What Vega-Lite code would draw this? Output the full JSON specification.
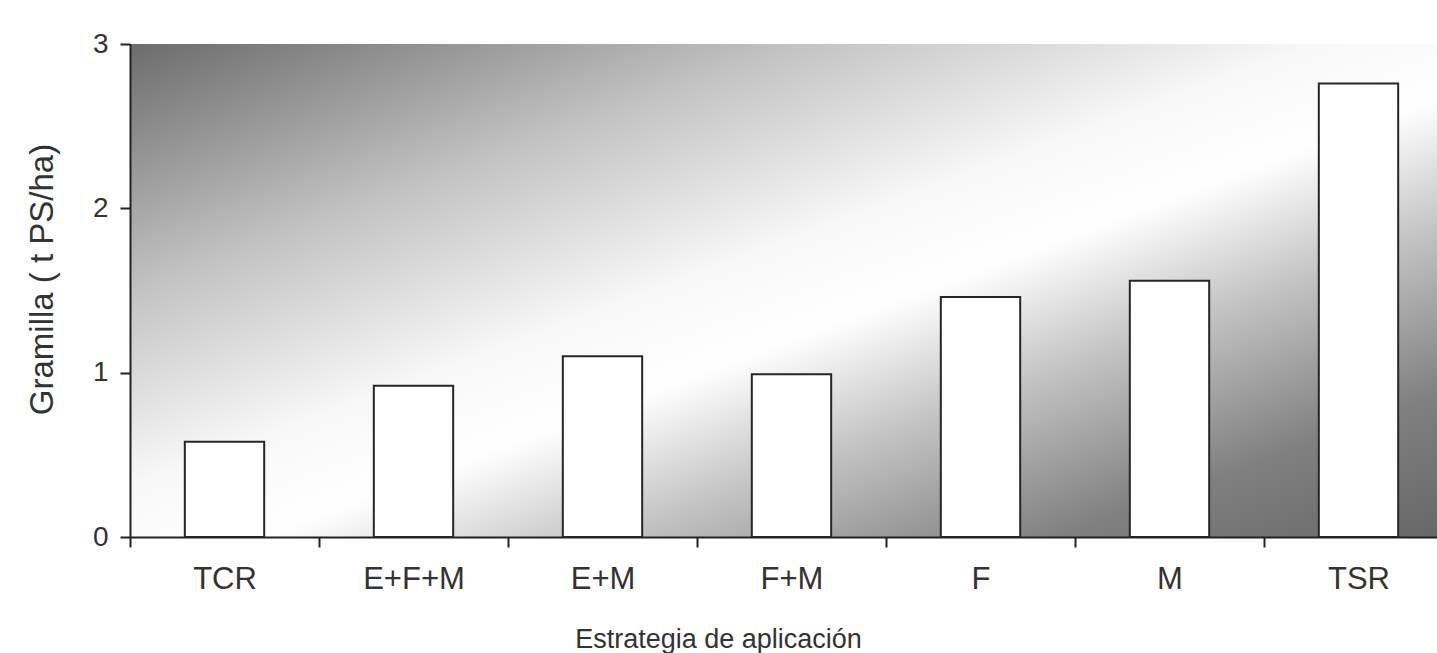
{
  "$schema": "https://vega.github.io/schema/vega-lite/v6.json",
  "autosize": "none",
  "padding": {"left": 130, "top": 44, "right": 0, "bottom": 116},
  "width": 1323,
  "height": 493,
  "background": "white",
  "config": {
    "font": "Liberation Sans",
    "view": {
      "stroke": null,
      "fill": {
        "gradient": "linear",
        "x1": 0, "y1": 0, "x2": 1, "y2": 1,
        "stops": [
          {"offset": 0, "color": "#6c6c6c"},
          {"offset": 0.25, "color": "#c2c2c2"},
          {"offset": 0.45, "color": "#f8f8f8"},
          {"offset": 0.55, "color": "#ffffff"},
          {"offset": 0.68, "color": "#c4c4c4"},
          {"offset": 0.85, "color": "#808080"},
          {"offset": 1, "color": "#666666"}
        ]
      }
    }
  },
  "data": {
    "values": [
      {"estrategia": "TCR", "gramilla": 0.58},
      {"estrategia": "E+F+M", "gramilla": 0.92},
      {"estrategia": "E+M", "gramilla": 1.10},
      {"estrategia": "F+M", "gramilla": 0.99},
      {"estrategia": "F", "gramilla": 1.46},
      {"estrategia": "M", "gramilla": 1.56},
      {"estrategia": "TSR", "gramilla": 2.76}
    ]
  },
  "mark": {"type": "bar", "fill": "white", "stroke": "#262626", "strokeWidth": 2, "width": {"band": 0.42}},
  "encoding": {
    "x": {
      "field": "estrategia",
      "type": "nominal",
      "sort": null,
      "scale": {"paddingInner": 0, "paddingOuter": 0},
      "axis": {
        "title": "Estrategia de aplicación",
        "labelAngle": 0,
        "labelFontSize": 31,
        "labelColor": "#333333",
        "labelPadding": 17,
        "tickBand": "extent",
        "tickSize": 10,
        "tickColor": "#222222",
        "tickWidth": 2,
        "domainColor": "#222222",
        "domainWidth": 2,
        "titleFontSize": 27,
        "titleFontWeight": "normal",
        "titleColor": "#333333",
        "titlePadding": 32,
        "titleX": 588,
        "titleAlign": "center"
      }
    },
    "y": {
      "field": "gramilla",
      "type": "quantitative",
      "scale": {"domain": [0, 3], "nice": false},
      "axis": {
        "title": "Gramilla ( t PS/ha)",
        "values": [0, 1, 2, 3],
        "format": "d",
        "grid": false,
        "labelFontSize": 28,
        "labelColor": "#333333",
        "labelPadding": 12,
        "tickSize": 10,
        "tickColor": "#222222",
        "tickWidth": 2,
        "domainColor": "#222222",
        "domainWidth": 2,
        "titleFontSize": 33,
        "titleFontWeight": "normal",
        "titleColor": "#333333",
        "titlePadding": 33,
        "titleY": 235,
        "titleAlign": "center"
      }
    }
  }
}
